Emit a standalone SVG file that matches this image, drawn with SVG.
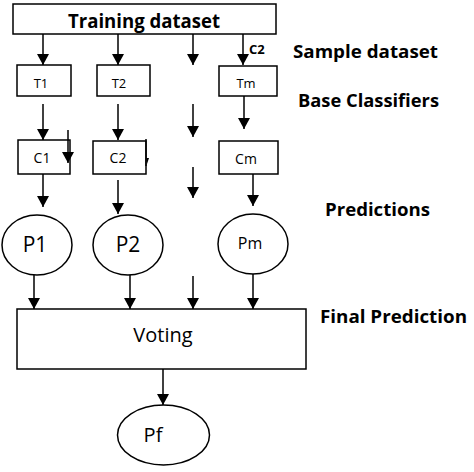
<svg xmlns="http://www.w3.org/2000/svg" width="474" height="472" viewBox="0 0 474 472">
<style>
.box{fill:#fff;stroke:#000;stroke-width:1.5}
.ell{fill:#fff;stroke:#000;stroke-width:1.5}
.con line{stroke:#000;stroke-width:1.5;marker-end:url(#ah)}
.t{font-family:"Open Sans","DejaVu Sans",sans-serif;fill:#000}
.b{font-weight:bold}
</style>
<defs>
<marker id="ah" markerUnits="userSpaceOnUse" markerWidth="14" markerHeight="12" refX="11" refY="6" orient="auto">
<path d="M0,0 L11,6 L0,12 Z" fill="#000"/>
</marker>
</defs>
<rect width="474" height="472" fill="#fff"/>
<g id="training"><rect class="box" x="13" y="4" width="263" height="30"/><text class="t b" x="144" y="28" font-size="19" text-anchor="middle" textLength="152" lengthAdjust="spacingAndGlyphs">Training dataset</text></g>
<g id="t1"><rect class="box" x="17" y="65" width="54" height="31"/><text class="t" x="41" y="88" font-size="13" text-anchor="middle">T1</text></g>
<g id="t2"><rect class="box" x="97" y="65" width="53" height="31"/><text class="t" x="119" y="88" font-size="13" text-anchor="middle">T2</text></g>
<g id="tm"><rect class="box" x="219" y="66" width="58" height="30"/><text class="t" x="246" y="88" font-size="13" text-anchor="middle">Tm</text></g>
<g id="c1"><rect class="box" x="18" y="140" width="52" height="34"/><text class="t" x="42" y="163" font-size="14" text-anchor="middle">C1</text></g>
<g id="c2"><rect class="box" x="93" y="141" width="53" height="33"/><text class="t" x="118" y="163" font-size="14" text-anchor="middle">C2</text></g>
<g id="cm"><rect class="box" x="219" y="141" width="59" height="33"/><text class="t" x="246" y="164" font-size="14" text-anchor="middle">Cm</text></g>
<g id="p1"><ellipse class="ell" cx="37" cy="245" rx="35" ry="30"/><text class="t" x="35" y="252" font-size="21" text-anchor="middle">P1</text></g>
<g id="p2"><ellipse class="ell" cx="128" cy="245" rx="35" ry="30"/><text class="t" x="128" y="252" font-size="21" text-anchor="middle">P2</text></g>
<g id="pm"><ellipse class="ell" cx="253" cy="244" rx="35" ry="30"/><text class="t" x="250" y="249" font-size="16" text-anchor="middle">Pm</text></g>
<g id="voting"><rect class="box" x="17" y="309" width="289" height="60"/><text class="t" x="163" y="342" font-size="20" text-anchor="middle">Voting</text></g>
<g id="pf"><ellipse class="ell" cx="163.5" cy="435" rx="46" ry="30"/><text class="t" x="153" y="442" font-size="20" text-anchor="middle">Pf</text></g>
<g id="labels">
<text class="t b" x="249" y="54" font-size="13">C2</text>
<text class="t b" x="293" y="58" font-size="18" textLength="145" lengthAdjust="spacingAndGlyphs">Sample dataset</text>
<text class="t b" x="298" y="107" font-size="18" textLength="141" lengthAdjust="spacingAndGlyphs">Base Classifiers</text>
<text class="t b" x="325" y="216" font-size="18" textLength="105" lengthAdjust="spacingAndGlyphs">Predictions</text>
<text class="t b" x="320" y="323" font-size="18" textLength="147" lengthAdjust="spacingAndGlyphs">Final Prediction</text>
</g>
<g class="con" id="connectors">
<line x1="43" y1="34" x2="43" y2="65"/>
<line x1="118" y1="34" x2="118" y2="65"/>
<line x1="193" y1="34" x2="193" y2="65"/>
<line x1="243" y1="34" x2="243" y2="65"/>
<line x1="43" y1="104" x2="43" y2="140"/>
<line x1="118" y1="104" x2="118" y2="140"/>
<line x1="193" y1="104" x2="193" y2="137"/>
<line x1="244" y1="96" x2="244" y2="129"/>
<line x1="68" y1="130" x2="68" y2="163"/>
<line x1="43" y1="174" x2="43" y2="207"/>
<line x1="118" y1="180" x2="118" y2="214"/>
<line x1="193" y1="167" x2="193" y2="198"/>
<line x1="253" y1="174" x2="253" y2="206"/>
<line x1="34" y1="275" x2="34" y2="309"/>
<line x1="130" y1="275" x2="130" y2="309"/>
<line x1="193" y1="276" x2="193" y2="309"/>
<line x1="253" y1="274" x2="253" y2="309"/>
<line x1="163" y1="369" x2="163" y2="405"/>
<path d="M146,139 L146,166" stroke="#000" stroke-width="1.5" fill="none"/>
<path d="M146.5,158 L149,158 L147,164 Z" fill="#000"/>
</g>
</svg>
